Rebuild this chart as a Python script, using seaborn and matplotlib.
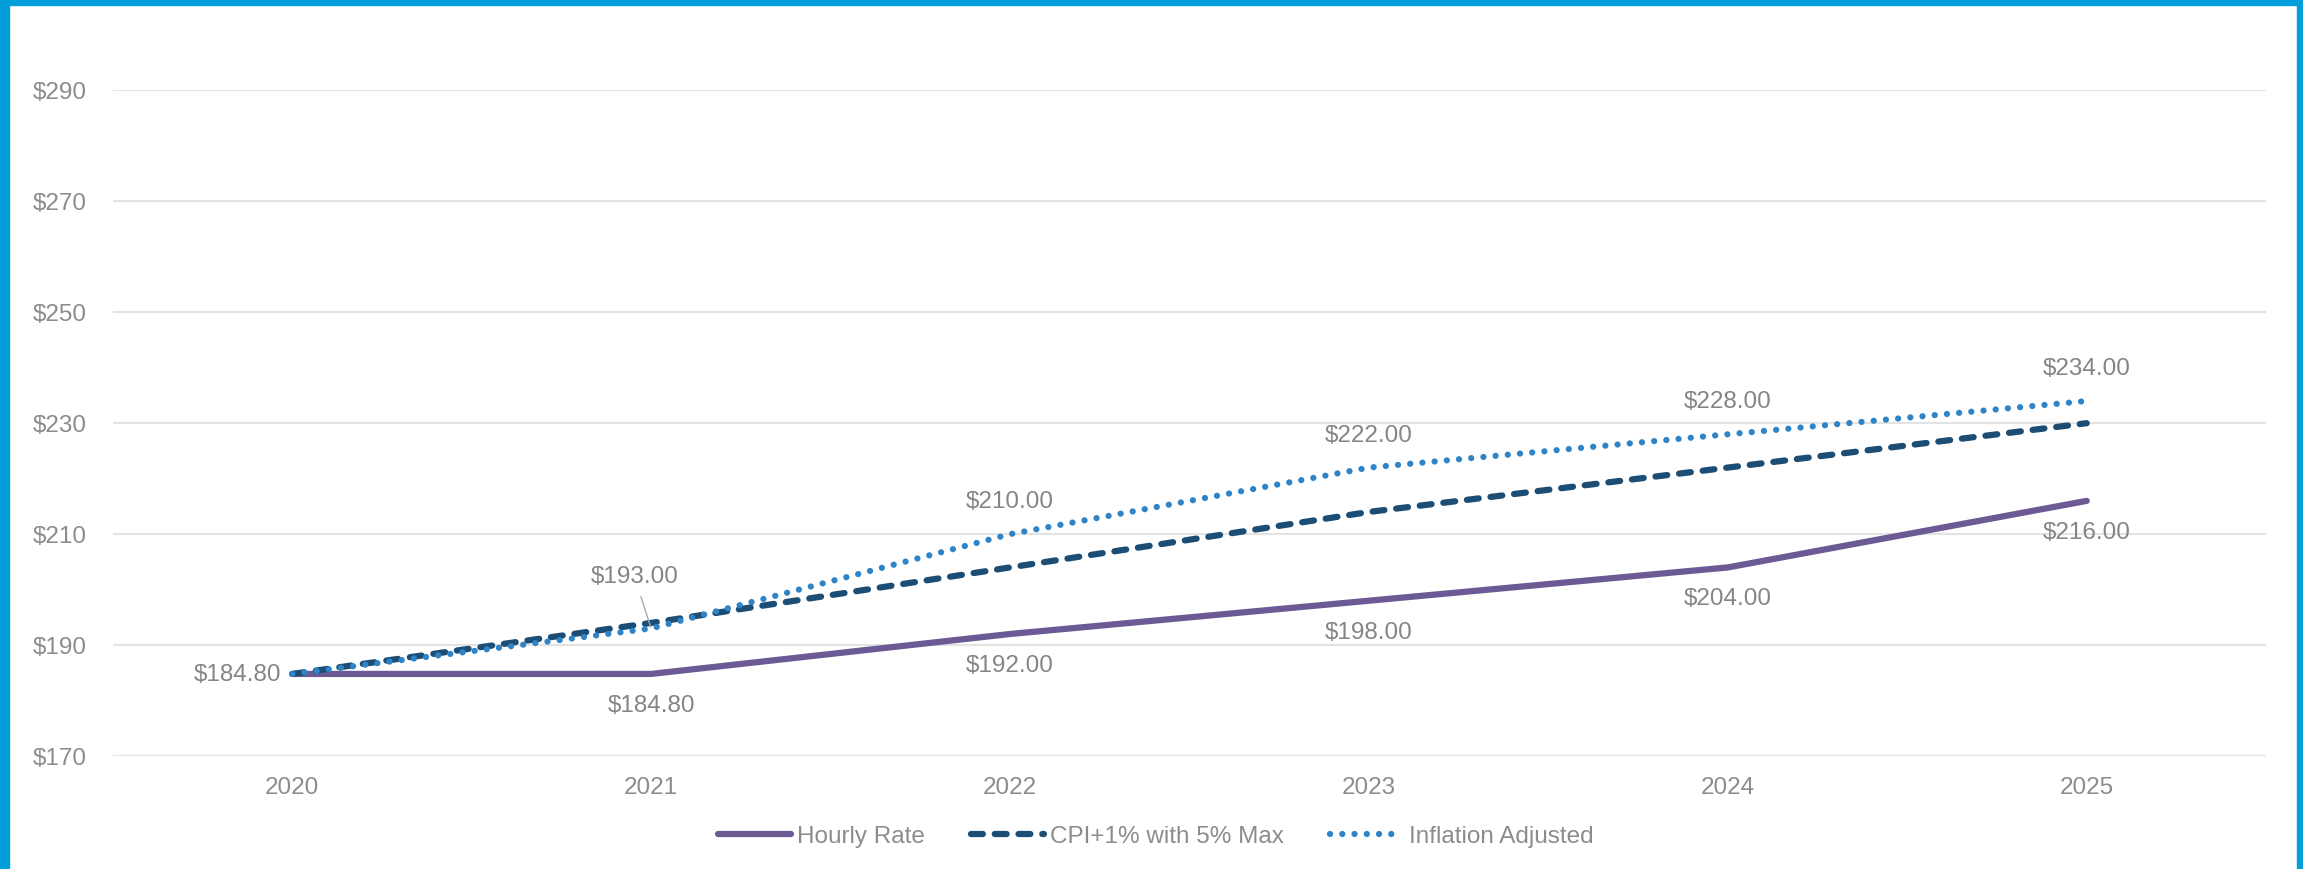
import pandas as pd
import matplotlib.pyplot as plt
import matplotlib.patches as patches
import seaborn as sns

# Chart data
years = ["2020", "2021", "2022", "2023", "2024", "2025"]
hourly_rate = [184.80, 184.80, 192.00, 198.00, 204.00, 216.00]
cpi_capped = [184.80, 194.00, 204.00, 214.00, 222.00, 230.00]
inflation_adj = [184.80, 193.00, 210.00, 222.00, 228.00, 234.00]
y_ticks = [170, 190, 210, 230, 250, 270, 290]

df = pd.DataFrame({"x": range(len(years)), "Hourly Rate": hourly_rate,
                   "CPI+1% with 5% Max": cpi_capped,
                   "Inflation Adjusted": inflation_adj})

sns.set_style("white")
plt.rcParams["font.family"] = ["Liberation Sans", "DejaVu Sans"]

gray = "#8C8C8C"
fig = plt.figure(figsize=(23.03, 8.69), dpi=100)
ax = fig.add_axes([0.049, 0.130, 0.935, 0.766])

lw = 4.5
sns.lineplot(data=df, x="x", y="Hourly Rate", ax=ax, color="#6B5A94",
             linewidth=lw, label="Hourly Rate", solid_capstyle="round")
sns.lineplot(data=df, x="x", y="CPI+1% with 5% Max", ax=ax, color="#1B4D75",
             linewidth=lw, label="CPI+1% with 5% Max")
sns.lineplot(data=df, x="x", y="Inflation Adjusted", ax=ax, color="#2E84C6",
             linewidth=lw, label="Inflation Adjusted")
ax.lines[1].set_dashes((1.9, 1.9))
ax.lines[1].set_dash_capstyle("round")
ax.lines[2].set_dashes((0.01, 1.95))
ax.lines[2].set_dash_capstyle("round")

ax.set_xlim(-0.5, len(years) - 0.5)
ax.set_ylim(170, 290)
ax.set_xticks(range(len(years)))
ax.set_xticklabels(years)
ax.set_yticks(y_ticks)
ax.set_yticklabels([f"${v}" for v in y_ticks])
ax.set_xlabel("")
ax.set_ylabel("")
ax.tick_params(axis="x", colors=gray, labelsize=17.5, length=0, pad=15)
ax.tick_params(axis="y", colors=gray, labelsize=17.5, length=0, pad=19)
ax.grid(axis="y", color="#E3E3E3", linewidth=1.5)
ax.set_axisbelow(True)
for s in ax.spines.values():
    s.set_visible(False)

# data labels
fs = 17.5
lab = "#858585"
for i, v in enumerate(hourly_rate):
    if i == 0:
        ax.annotate(f"${v:.2f}", (i, v), xytext=(-8, -1), textcoords="offset points",
                    ha="right", va="center", fontsize=fs, color=lab)
    else:
        ax.annotate(f"${v:.2f}", (i, v), xytext=(0, -23), textcoords="offset points",
                    ha="center", va="center", fontsize=fs, color=lab)
for i, v in enumerate(inflation_adj):
    if i == 0:
        continue
    if i == 1:
        ax.annotate(f"${v:.2f}", (i, v), xytext=(-12, 37), textcoords="offset points",
                    ha="center", va="center", fontsize=fs, color=lab,
                    arrowprops=dict(arrowstyle="-", color="#AAAAAA", lw=1,
                                    shrinkA=4, shrinkB=1))
    else:
        ax.annotate(f"${v:.2f}", (i, v), xytext=(0, 23), textcoords="offset points",
                    ha="center", va="center", fontsize=fs, color=lab)

ax.get_legend().remove()
h, l = ax.get_legend_handles_labels()
fig.legend(h, l, loc="center", bbox_to_anchor=(0.502, 0.037), ncol=3, frameon=False,
           fontsize=fs, labelcolor=gray, handlelength=3, handletextpad=0.25,
           columnspacing=1.9)

# blue frame on left, top and right
blue = "#009FDB"
W, H = 2303, 869
fig.patches.append(patches.Rectangle((0, 0), 9 / W, 1, transform=fig.transFigure,
                                     color=blue, zorder=10))
fig.patches.append(patches.Rectangle((1 - 6 / W, 0), 6 / W, 1, transform=fig.transFigure,
                                     color=blue, zorder=10))
fig.patches.append(patches.Rectangle((0, 1 - 5 / H), 1, 5 / H, transform=fig.transFigure,
                                     color=blue, zorder=10))

fig.savefig("out.png", dpi=100)
